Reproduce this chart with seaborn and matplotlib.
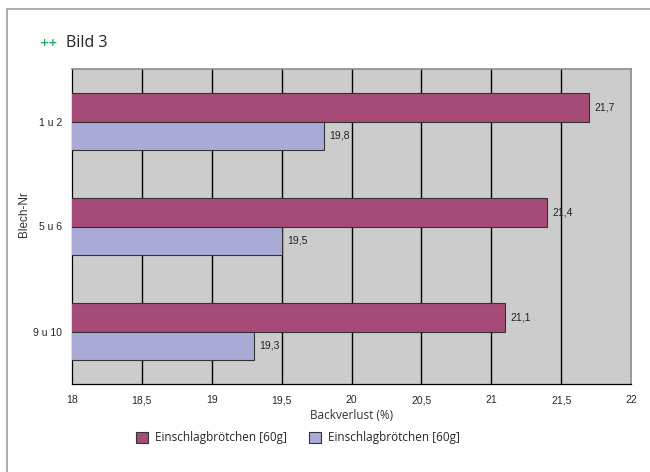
import pandas as pd
import matplotlib.pyplot as plt
import matplotlib.patches as mpatches
from matplotlib.lines import Line2D
import seaborn as sns

# Daten aus Bild 3
blech = ['1 u 2', '5 u 6', '9 u 10']
serie_a = [21.7, 21.4, 21.1]
serie_b = [19.8, 19.5, 19.3]
serien_namen = ['Einschlagbrötchen [60g]', 'Einschlagbrötchen [60g]']
x_ticks = [18, 18.5, 19, 19.5, 20, 20.5, 21, 21.5, 22]

farben = ['#A64A78', '#AAAAD6']

df = pd.DataFrame({
    'blech': blech * 2,
    'wert': serie_a + serie_b,
    'serie': ['a'] * len(blech) + ['b'] * len(blech),
})

sns.set_style('white')
plt.rcParams['font.family'] = ['Liberation Sans', 'DejaVu Sans']
humanist = ['Open Sans', 'DejaVu Sans']

fig = plt.figure(figsize=(6.5, 4.72), dpi=100)
ax = fig.add_axes([72 / 650, 1 - 384 / 472, 559 / 650, 315 / 472])

sns.barplot(data=df, x='wert', y='blech', hue='serie', orient='h',
            palette=farben, saturation=1, width=0.55, edgecolor='#333333',
            linewidth=0.8, legend=False, ax=ax, zorder=3)

ax.set_facecolor('#CCCCCC')
ax.set_xlim(18, 22)
ax.set_ylim(2.5, -0.5)
ax.set_xticks(x_ticks)
ax.set_xticklabels([f'{t:g}'.replace('.', ',') for t in x_ticks], fontsize=7.5)
ax.tick_params(axis='x', length=3, width=0.8, color='black', pad=5)
ax.set_yticks(range(len(blech)))
ax.set_yticklabels(blech, fontsize=7.5)
ax.tick_params(axis='y', which='major', length=0, pad=7)
ax.set_yticks([-0.5, 0.5, 1.5, 2.5], minor=True)
ax.tick_params(axis='y', which='minor', length=4, width=0.8, color='black')

# vertikale Gitterlinien
ax.grid(False)
for t in x_ticks[1:-1]:
    ax.axvline(t, color='black', linewidth=1, zorder=1)

for side in ['left', 'bottom']:
    ax.spines[side].set_color('black')
    ax.spines[side].set_linewidth(0.9)
for side in ['top', 'right']:
    ax.spines[side].set_visible(True)
    ax.spines[side].set_color('#8C8C8C')
    ax.spines[side].set_linewidth(1.2)

# Wertebeschriftung
for cont, werte in zip(ax.containers, [serie_a, serie_b]):
    ax.bar_label(cont, labels=[f'{v:.1f}'.replace('.', ',') for v in werte],
                 padding=4, fontsize=7.5, color='#222222')

ax.set_xlabel('Backverlust (%)', fontsize=8.5, labelpad=3,
              family=humanist, color='#333333')
ax.set_ylabel('Blech-Nr', fontsize=8.5, color='#333333')
ax.yaxis.set_label_coords(-0.075, 0.54)

# Legende
handles = [mpatches.Patch(facecolor=f, edgecolor='#333333', linewidth=0.8)
           for f in farben]
fig.legend(handles, serien_namen, loc='center',
           bbox_to_anchor=(298 / 650, 1 - 438 / 472),
           ncol=2, frameon=False, handlelength=1.0, handleheight=1.1,
           columnspacing=1.9, handletextpad=0.6,
           prop={'family': humanist, 'size': 8.5})

# Titel
fig.text(40 / 650, 1 - 43 / 472, '++', color='#1DAA5E', fontsize=8,
         fontweight='bold', family=['DejaVu Sans'], va='center')
fig.text(66 / 650, 1 - 43 / 472, 'Bild 3', color='#222222', fontsize=11.5,
         family=humanist, va='center')

# Rahmen
fig.add_artist(Line2D([7 / 650, 1], [1 - 9 / 472, 1 - 9 / 472],
                      color='#A0A0A0', linewidth=1.2))
fig.add_artist(Line2D([7 / 650, 7 / 650], [0, 1 - 9 / 472],
                      color='#A0A0A0', linewidth=1.2))

fig.savefig('out.png', dpi=100)
